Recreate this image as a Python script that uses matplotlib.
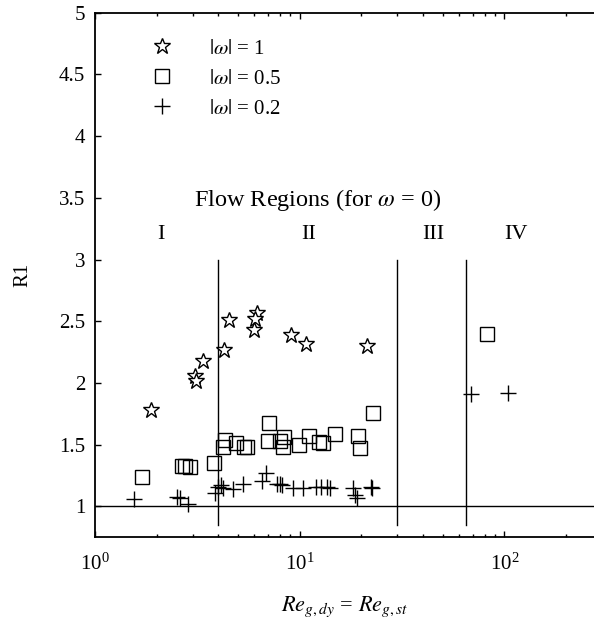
import numpy as np
import matplotlib
matplotlib.use("Agg")
import matplotlib.pyplot as plt
from matplotlib.ticker import LogLocator, NullFormatter

plt.rcParams["font.family"] = ["Liberation Serif", "DejaVu Serif"]
plt.rcParams["mathtext.fontset"] = "stix"

# |omega| = 1
star_x = [1.88, 3.07, 3.12, 3.35, 4.27, 4.53, 6.17, 6.07, 6.0, 9.07, 10.74, 21.3]
star_y = [1.78, 2.06, 2.02, 2.18, 2.27, 2.51, 2.57, 2.52, 2.43, 2.39, 2.32, 2.30]

# |omega| = 0.5
sq_x = [1.70, 2.65, 2.75, 2.90, 3.83, 4.21, 4.32, 4.89, 5.37, 5.51, 7.11, 7.03,
        8.02, 8.42, 8.26, 9.93, 11.1, 12.4, 12.96, 14.8, 19.2, 19.6, 22.9, 82.3]
sq_y = [1.24, 1.33, 1.33, 1.32, 1.35, 1.48, 1.54, 1.51, 1.48, 1.48, 1.68, 1.53,
        1.53, 1.56, 1.48, 1.50, 1.57, 1.52, 1.51, 1.59, 1.57, 1.47, 1.76, 2.40]

# |omega| = 0.2
pl_x = [1.55, 2.52, 2.60, 2.86, 3.86, 4.0, 4.13, 4.2, 4.71, 5.30, 6.57, 6.85,
        7.72, 8.02, 8.2, 9.25, 10.4, 12.0, 12.7, 13.6, 14.1, 18.3, 18.6, 19.0,
        22.2, 22.6, 68.8, 104.6]
pl_y = [1.06, 1.08, 1.07, 1.02, 1.11, 1.16, 1.17, 1.15, 1.14, 1.18, 1.21, 1.27,
        1.18, 1.18, 1.17, 1.15, 1.15, 1.16, 1.16, 1.16, 1.15, 1.15, 1.09, 1.07,
        1.16, 1.15, 1.91, 1.92]

# flow region boundaries (omega = 0)
region_bounds = [4, 30, 65]
region_names = ["I", "II", "III", "IV"]
region_label_x = [2.1, 11.1, 44.9, 114]

fig = plt.figure(figsize=(5.94, 6.26), dpi=100)
ax = fig.add_axes([0.16, 0.1417, 0.84, 0.838])

ax.set_xscale("log")
ax.set_xlim(1, 274)
ax.set_ylim(0.75, 5)

ax.axhline(1, color="black", lw=1)
for b in region_bounds:
    ax.plot([b, b], [0.85, 3.0], color="black", lw=1)

ax.plot(star_x, star_y, ls="none", marker="*", ms=12, mfc="white", mec="black",
        mew=1, label=r"$|\omega|$ = 1")
ax.plot(sq_x, sq_y, ls="none", marker="s", ms=9.5, mfc="none", mec="black",
        mew=1, label=r"$|\omega|$ = 0.5")
ax.plot(pl_x, pl_y, ls="none", marker="+", ms=11, color="black", mew=1,
        label=r"$|\omega|$ = 0.2")

ax.text(12.3, 3.48, r"Flow Regions (for $\omega$ = 0)", ha="center", va="center",
        fontsize=17.5)
for nm, lx in zip(region_names, region_label_x):
    ax.text(lx, 3.2, nm, ha="center", va="center", fontsize=16)

ax.legend(loc="upper left", bbox_to_anchor=(0.103, 0.95), frameon=False,
          fontsize=15, handlelength=1.5, handletextpad=1.5, labelspacing=0.5,
          borderaxespad=0, borderpad=0)

ax.set_yticks([1, 1.5, 2, 2.5, 3, 3.5, 4, 4.5, 5])
ax.set_yticklabels(["1", "1.5", "2", "2.5", "3", "3.5", "4", "4.5", "5"])
ax.xaxis.set_major_locator(LogLocator(base=10, numticks=10))
ax.xaxis.set_minor_locator(LogLocator(base=10, subs=np.arange(2, 10), numticks=20))
ax.xaxis.set_minor_formatter(NullFormatter())
ax.tick_params(axis="both", which="major", direction="in", length=4, width=1,
               labelsize=15, top=True)
ax.tick_params(axis="x", which="minor", direction="in", length=2, width=1, top=True)
ax.tick_params(axis="x", which="major", pad=12)
ax.tick_params(axis="y", which="major", pad=7)

for s in ["left", "bottom", "top"]:
    ax.spines[s].set_linewidth(1.3)
ax.spines["right"].set_visible(False)

ax.set_ylabel("R1", fontsize=15, labelpad=19)
ax.set_xlabel(r"$Re_{g,dy}$ = $Re_{g,st}$", fontsize=16, labelpad=14)

fig.savefig("out.png", dpi=100)
